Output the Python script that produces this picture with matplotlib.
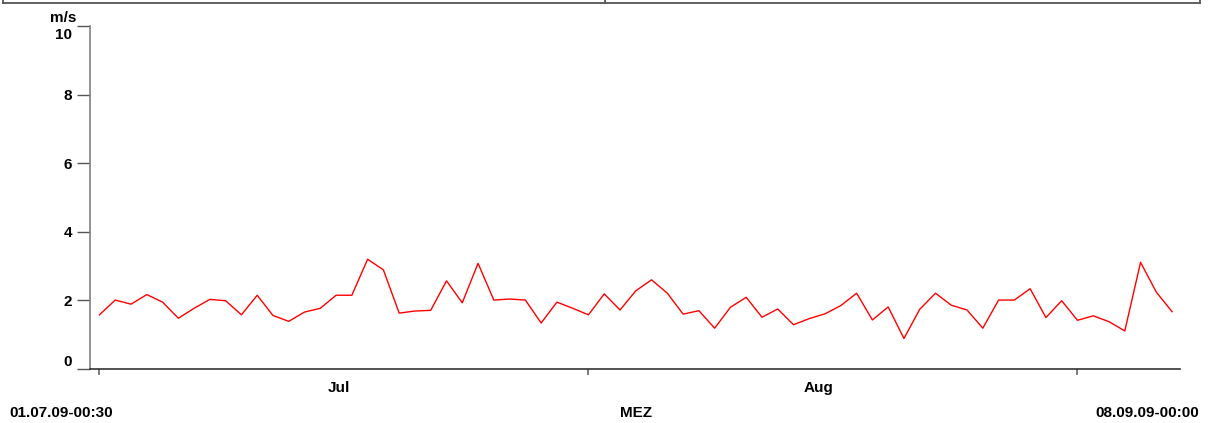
import matplotlib
matplotlib.use("Agg")
import matplotlib.pyplot as plt
from matplotlib.lines import Line2D

# ---- data ----
days = list(range(69))  # daily values 01.07.09 .. 07.09.09
speed = [1.58, 2.01, 1.89, 2.17, 1.95, 1.48, 1.77, 2.03, 1.99, 1.58,
         2.15, 1.56, 1.39, 1.66, 1.77, 2.15, 2.15, 3.20, 2.89, 1.63,
         1.69, 1.71, 2.57, 1.93, 3.08, 2.01, 2.04, 2.01, 1.34, 1.95,
         1.77, 1.58, 2.19, 1.72, 2.28, 2.60, 2.21, 1.60, 1.70, 1.19,
         1.80, 2.09, 1.51, 1.75, 1.29, 1.47, 1.61, 1.85, 2.21, 1.43,
         1.81, 0.89, 1.74, 2.21, 1.86, 1.72, 1.19, 2.01, 2.01, 2.34,
         1.50, 1.99, 1.42, 1.55, 1.38, 1.11, 3.11, 2.24, 1.67]
month_starts = [0, 31, 62]
month_names = ["Jul", "Aug"]
month_label_pos = [15.2, 45.6]
yticks = [0, 2, 4, 6, 8, 10]
unit = "m/s"
start_label = "01.07.09-00:30"
end_label = "08.09.09-00:00"
tz_label = "MEZ"

W, H = 1210, 423
FS = 11
plt.rcParams['font.family'] = ['Liberation Sans', 'DejaVu Sans']
fig = plt.figure(figsize=(W / 100, H / 100), dpi=100)

def px(x, y):
    return x / W, 1 - y / H

l, b = 90 / W, 1 - 369 / H
r, t = 1180 / W, 1 - 26 / H
ax = fig.add_axes([l, b, r - l, t - b])
ax.plot(days, speed, color='#ff0000', lw=1.0)
ax.set_xlim(-0.6, 68.5)
ax.set_ylim(0, 10)

for s in ('top', 'right'):
    ax.spines[s].set_visible(False)
ax.spines['left'].set_color('#808080')
ax.spines['left'].set_linewidth(1.2)
ax.spines['bottom'].set_color('#333333')
ax.spines['bottom'].set_linewidth(1.2)

ax.set_yticks(yticks)
ylabels = [str(v) for v in yticks]
ax.set_yticklabels(ylabels[:-1] + [''], fontsize=FS, fontweight='bold')
ax.tick_params(axis='y', direction='out', length=9.4, width=1.0, color='#555555', pad=3.6)
ax.get_yticklabels()[0].set_va('bottom')
fig.text(*px(71.5, 35), ylabels[-1], ha='right', va='center', fontsize=FS, fontweight='bold')

ax.set_xticks(month_starts)
ax.set_xticklabels([])
ax.tick_params(axis='x', which='major', direction='out', length=4.3, width=1.2, color='#666666')
ax.set_xticks(month_label_pos, minor=True)
ax.set_xticklabels(month_names, minor=True, fontsize=FS, fontweight='bold')
ax.tick_params(axis='x', which='minor', length=0, pad=8.3)

fig.text(*px(63, 18), unit, ha='center', va='center', fontsize=FS, fontweight='bold')
fig.text(*px(9, 413), start_label, ha='left', va='center', fontsize=FS, fontweight='bold')
fig.text(*px(636, 413), tz_label, ha='center', va='center', fontsize=FS, fontweight='bold')
fig.text(*px(1199, 413), end_label, ha='right', va='center', fontsize=FS, fontweight='bold')

# top frame strip
def fline(xs, ys):
    fx = [x / W for x in xs]
    fy = [1 - y / H for y in ys]
    fig.add_artist(Line2D(fx, fy, color='#555555', lw=1.3, transform=fig.transFigure))

fline([3, 1200], [3, 3])
fline([3, 3], [-1, 3])
fline([1200, 1200], [-1, 3])
fline([605, 605], [-1, 3])

fig.savefig("out.png", dpi=100)
